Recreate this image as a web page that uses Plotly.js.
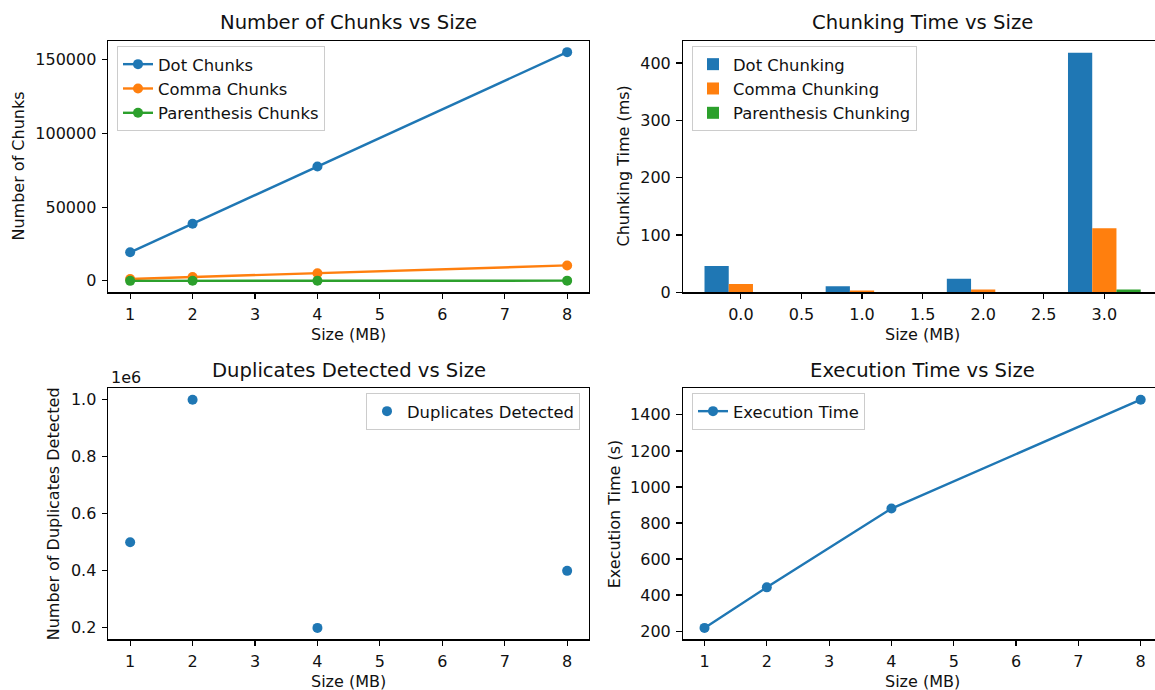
<!DOCTYPE html>
<html>
<head>
<meta charset="utf-8">
<script src="https://cdn.plot.ly/plotly-3.0.1.min.js"></script>
<style>
html,body{margin:0;padding:0;overflow:hidden;background:#fff;}
#chart{width:1163px;height:690px;}
</style>
</head>
<body>
<div id="chart"></div>
<script>
// ---- data ----
var sizes = [1, 2, 4, 8];
var dotChunks = [19400, 38800, 77600, 155200];
var commaChunks = [1300, 2600, 5200, 10500];
var parenChunks = [20, 40, 80, 160];

var barPositions = [0, 1, 2, 3];
var dotTime = [46, 10.5, 23.5, 418];
var commaTime = [14.6, 3, 4.7, 111.6];
var parenTime = [0.5, 0.3, 0.5, 4.7];

var duplicates = [500000, 1000000, 200000, 400000];
var dupTickVals = [200000, 400000, 600000, 800000, 1000000];
var dupTickText = ["0.2", "0.4", "0.6", "0.8", "1.0"];

var execTime = [218, 443, 880, 1484];

// ---- styling ----
var W = 1163, H = 690;
var BLUE = '#1f77b4', ORANGE = '#ff7f0e', GREEN = '#2ca02c';
var FONT = 'DejaVu Sans, Arial, sans-serif';
var TICK = 16, TITLE = 19.6, LEGF = 16.4;
var TXT = '#111';

function pad(arrs, zeroMin) {
  var all = [].concat.apply([], arrs);
  var mn = Math.min.apply(null, all), mx = Math.max.apply(null, all);
  if (zeroMin) return [0, mx * 1.05];
  var s = mx - mn;
  return [mn - 0.05 * s, mx + 0.05 * s];
}
function px(x) { return x / W; }
function py(y) { return 1 - y / H; }

function axisBase(extra) {
  var a = {
    showline: true, mirror: true, linecolor: '#000', linewidth: 1.2,
    ticks: 'outside', ticklen: 5.5, tickwidth: 1.2, tickcolor: '#000',
    ticklabelstandoff: 2,
    showgrid: false, zeroline: false,
    tickfont: {family: FONT, size: TICK, color: TXT}
  };
  for (var k in extra) a[k] = extra[k];
  return a;
}

var lineW = 2.4, mSize = 10;

var traces = [
  {x: sizes, y: dotChunks, type: 'scatter', mode: 'lines+markers', name: 'Dot Chunks',
   line: {color: BLUE, width: lineW}, marker: {color: BLUE, size: mSize}, xaxis: 'x', yaxis: 'y', legend: 'legend'},
  {x: sizes, y: commaChunks, type: 'scatter', mode: 'lines+markers', name: 'Comma Chunks',
   line: {color: ORANGE, width: lineW}, marker: {color: ORANGE, size: mSize}, xaxis: 'x', yaxis: 'y', legend: 'legend'},
  {x: sizes, y: parenChunks, type: 'scatter', mode: 'lines+markers', name: 'Parenthesis Chunks',
   line: {color: GREEN, width: lineW}, marker: {color: GREEN, size: mSize}, xaxis: 'x', yaxis: 'y', legend: 'legend'},

  {x: barPositions, y: dotTime, type: 'bar', name: 'Dot Chunking', marker: {color: BLUE},
   xaxis: 'x2', yaxis: 'y2', legend: 'legend2'},
  {x: barPositions, y: commaTime, type: 'bar', name: 'Comma Chunking', marker: {color: ORANGE},
   xaxis: 'x2', yaxis: 'y2', legend: 'legend2'},
  {x: barPositions, y: parenTime, type: 'bar', name: 'Parenthesis Chunking', marker: {color: GREEN},
   xaxis: 'x2', yaxis: 'y2', legend: 'legend2'},

  {x: sizes, y: duplicates, type: 'scatter', mode: 'markers', name: 'Duplicates Detected',
   marker: {color: BLUE, size: mSize}, xaxis: 'x3', yaxis: 'y3', legend: 'legend3'},

  {x: sizes, y: execTime, type: 'scatter', mode: 'lines+markers', name: 'Execution Time',
   line: {color: BLUE, width: lineW}, marker: {color: BLUE, size: mSize}, xaxis: 'x4', yaxis: 'y4', legend: 'legend4'}
];

var colL = [px(108.3), px(589)], colR = [px(682.7), px(1162.5)];
var rowT = [py(292.3), py(40.7)], rowB = [py(639.3), py(388.3)];

var legendBase = {
  bgcolor: 'rgba(255,255,255,0.8)', bordercolor: '#cccccc', borderwidth: 1,
  font: {family: FONT, size: LEGF, color: TXT}, xanchor: 'left', yanchor: 'top'
};
function leg(x, y, xa) {
  var l = {}; for (var k in legendBase) l[k] = legendBase[k];
  l.x = x; l.y = y; if (xa) l.xanchor = xa; return l;
}

function ann(text, x, y, size, rot, xa) {
  var a = {text: text, xref: 'paper', yref: 'paper', x: x, y: y, showarrow: false,
    font: {family: FONT, size: size, color: TXT}, xanchor: xa || 'center', yanchor: 'middle'};
  if (rot) a.textangle = rot;
  return a;
}

var layout = {
  width: W, height: H, margin: {l: 0, r: 0, t: 0, b: 0},
  paper_bgcolor: '#fff', plot_bgcolor: '#fff',
  font: {family: FONT},
  showlegend: true,
  barmode: 'group', bargap: 0.4, bargroupgap: 0,
  xaxis: axisBase({domain: colL, anchor: 'y', range: [0.65, 8.35], dtick: 1, tick0: 0}),
  yaxis: axisBase({domain: rowT, anchor: 'x', range: pad([dotChunks, commaChunks, parenChunks]), dtick: 50000, tick0: 0, tickformat: 'd'}),
  xaxis2: axisBase({domain: colR, anchor: 'y2', range: [-0.48, 3.48], dtick: 0.5, tick0: 0, tickformat: '.1f'}),
  yaxis2: axisBase({domain: rowT, anchor: 'x2', range: pad([dotTime, commaTime, parenTime], true), dtick: 100, tick0: 0}),
  xaxis3: axisBase({domain: colL, anchor: 'y3', range: [0.65, 8.35], dtick: 1, tick0: 0}),
  yaxis3: axisBase({domain: rowB, anchor: 'x3', range: pad([duplicates]), tickmode: 'array', tickvals: dupTickVals, ticktext: dupTickText}),
  xaxis4: axisBase({domain: colR, anchor: 'y4', range: [0.65, 8.35], dtick: 1, tick0: 0}),
  yaxis4: axisBase({domain: rowB, anchor: 'x4', range: pad([execTime]), dtick: 200, tick0: 0}),
  legend: leg(px(117), py(46)),
  legend2: leg(px(692), py(46)),
  legend3: leg(px(580), py(393), 'right'),
  legend4: leg(px(692), py(393)),
  annotations: [
    ann('Number of Chunks vs Size', px(348.7), py(23), TITLE),
    ann('Chunking Time vs Size', px(922.6), py(23), TITLE),
    ann('Duplicates Detected vs Size', px(348.7), py(370.5), TITLE),
    ann('Execution Time vs Size', px(922.6), py(370.5), TITLE),
    ann('Size (MB)', px(348.7), py(334), TICK),
    ann('Size (MB)', px(922.6), py(334), TICK),
    ann('Size (MB)', px(348.7), py(681), TICK),
    ann('Size (MB)', px(922.6), py(681), TICK),
    ann('Number of Chunks', px(18), py(166.5), TICK, -90),
    ann('Chunking Time (ms)', px(623), py(166.5), TICK, -90),
    ann('Number of Duplicates Detected', px(53.5), py(513.8), TICK, -90),
    ann('Execution Time (s)', px(614.5), py(513.8), TICK, -90),
    ann('1e6', px(108.5), py(378), TICK, 0, 'left')
  ]
};

Plotly.newPlot('chart', traces, layout, {staticPlot: true, displayModeBar: false});
</script>
</body>
</html>
